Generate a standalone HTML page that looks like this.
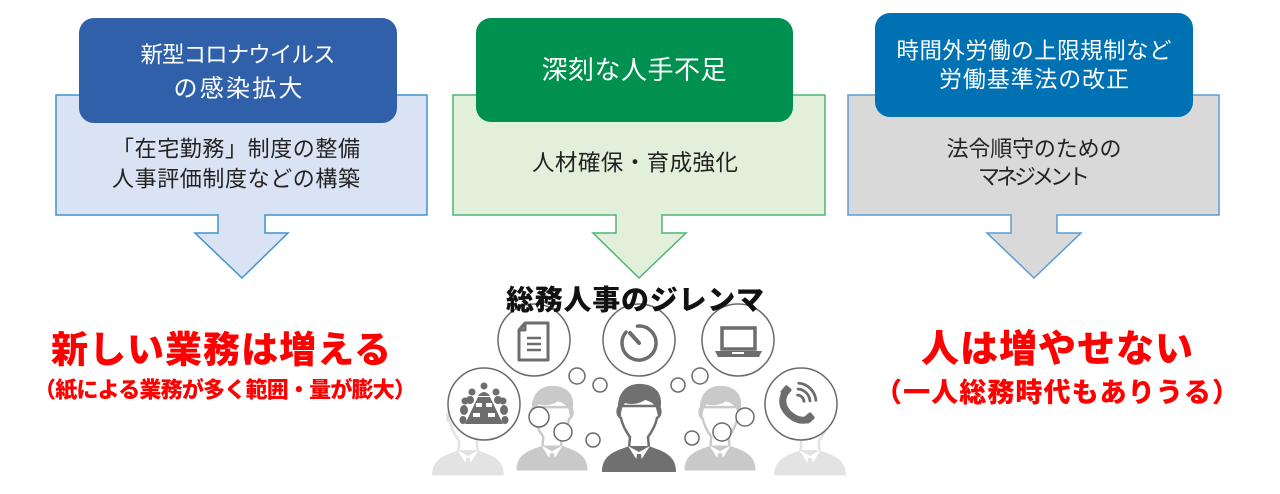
<!DOCTYPE html>
<html><head><meta charset="utf-8">
<style>
html,body{margin:0;padding:0;background:#fff;}
svg{display:block;}
text{font-family:"Liberation Sans","Noto Sans CJK JP",sans-serif;}
</style></head>
<body>
<svg width="1280" height="494" viewBox="0 0 1280 494" xmlns="http://www.w3.org/2000/svg">
<!-- Left box -->
<polygon points="56,95 427,95 427,215 265,215 265,233 288,233 242,278 195,233 218,233 218,215 56,215" fill="#dae3f3" stroke="#3f93cf" stroke-width="1.5"/>
<rect x="79" y="18" width="318" height="105" rx="15" fill="#3060aa"/>
<text x="238" y="55" font-size="22.5" fill="#fff" text-anchor="middle" dominant-baseline="central" textLength="195">新型コロナウイルス</text>
<text x="238" y="89" font-size="24" fill="#fff" text-anchor="middle" dominant-baseline="central" textLength="129">の感染拡大</text>
<text x="236" y="149" font-size="22" fill="#222" text-anchor="middle" dominant-baseline="central" textLength="248">「在宅勤務」制度の整備</text>
<text x="236" y="179" font-size="22" fill="#222" text-anchor="middle" dominant-baseline="central" textLength="248">人事評価制度などの構築</text>

<!-- Middle box -->
<polygon points="453,95 825,95 825,215 662,215 662,233 686,233 639,278 593,233 616,233 616,215 453,215" fill="#e2efda" stroke="#4db575" stroke-width="1.5"/>
<rect x="476" y="18" width="317" height="104" rx="15" fill="#00904f"/>
<text x="634" y="70" font-size="26" fill="#fff" text-anchor="middle" dominant-baseline="central" textLength="185">深刻な人手不足</text>
<text x="635" y="163" font-size="22.5" fill="#222" text-anchor="middle" dominant-baseline="central" textLength="206">人材確保・育成強化</text>

<!-- Right box -->
<polygon points="848,95 1219,95 1219,215 1057,215 1057,233 1081,233 1034,278 987,233 1011,233 1011,215 848,215" fill="#d9d9d9" stroke="#5b9bd5" stroke-width="1.5"/>
<rect x="875" y="13" width="318" height="104" rx="15" fill="#0071b3"/>
<text x="1034" y="51" font-size="22.5" fill="#fff" text-anchor="middle" dominant-baseline="central" textLength="275">時間外労働の上限規制など</text>
<text x="1034" y="79" font-size="23" fill="#fff" text-anchor="middle" dominant-baseline="central" textLength="190">労働基準法の改正</text>
<text x="1034" y="149" font-size="22" fill="#222" text-anchor="middle" dominant-baseline="central" textLength="175">法令順守のための</text>
<text x="1034" y="177" font-size="22" fill="#222" text-anchor="middle" dominant-baseline="central" textLength="112">マネジメント</text>

<!-- Red texts -->
<text x="221" y="350" font-size="37" font-weight="900" fill="#ff0000" text-anchor="middle" dominant-baseline="central" textLength="340">新しい業務は増える</text>
<text x="225" y="390" font-size="22" font-weight="900" fill="#ff0000" text-anchor="middle" dominant-baseline="central" textLength="382">（紙による業務が多く範囲・量が膨大）</text>
<text x="1057" y="350" font-size="38" font-weight="900" fill="#ff0000" text-anchor="middle" dominant-baseline="central" textLength="272">人は増やせない</text>
<text x="1057" y="393" font-size="27" font-weight="900" fill="#ff0000" text-anchor="middle" dominant-baseline="central" textLength="364">（一人総務時代もありうる）</text>

<!-- Persons -->
<g transform="translate(468,390) scale(0.97)" style="color:#e3e3e3">
  <path d="M -18 22 C -22 22 -23 31 -18 34 C -16 44 -11 50 -9 53 L -10 64 L 10 64 L 9 53 C 11 50 16 44 18 34 C 23 31 22 22 18 22 Z" fill="#fff" stroke="currentColor" stroke-width="2.5"/>
  <path d="M -20 32 C -24 14 -16 1 -2 0 C 12 -1 22 6 22 18 C 22 24 21 28 19 32 L 17 24 C 15 19 10 17 6 16 C 0 20 -8 21 -14 19 C -17 23 -18 27 -18 32 Z" fill="currentColor"/>
  <path d="M -37 88 C -37 75 -30 69 -15 64 L -10 62 L 10 62 L 15 64 C 30 69 37 75 37 88 Z" fill="currentColor"/>
  <polygon points="-11,62 -2,76 0,70 2,76 11,62 0,68" fill="#fff"/>
  <polygon points="-2,70 2,70 3.5,82 0,88 -3.5,82" fill="currentColor"/>
</g>
<g transform="translate(810,390) scale(0.97)" style="color:#e3e3e3">
  <path d="M -18 22 C -22 22 -23 31 -18 34 C -16 44 -11 50 -9 53 L -10 64 L 10 64 L 9 53 C 11 50 16 44 18 34 C 23 31 22 22 18 22 Z" fill="#fff" stroke="currentColor" stroke-width="2.5"/>
  <path d="M -20 32 C -24 14 -16 1 -2 0 C 12 -1 22 6 22 18 C 22 24 21 28 19 32 L 17 24 C 15 19 10 17 6 16 C 0 20 -8 21 -14 19 C -17 23 -18 27 -18 32 Z" fill="currentColor"/>
  <path d="M -37 88 C -37 75 -30 69 -15 64 L -10 62 L 10 62 L 15 64 C 30 69 37 75 37 88 Z" fill="currentColor"/>
  <polygon points="-11,62 -2,76 0,70 2,76 11,62 0,68" fill="#fff"/>
  <polygon points="-2,70 2,70 3.5,82 0,88 -3.5,82" fill="currentColor"/>
</g>
<g transform="translate(552,386) scale(0.96)" style="color:#c9c9c9">
  <path d="M -18 22 C -22 22 -23 31 -18 34 C -16 44 -11 50 -9 53 L -10 64 L 10 64 L 9 53 C 11 50 16 44 18 34 C 23 31 22 22 18 22 Z" fill="#fff" stroke="currentColor" stroke-width="2.5"/>
  <path d="M -20 32 C -24 14 -16 1 -2 0 C 12 -1 22 6 22 18 C 22 24 21 28 19 32 L 17 24 C 15 19 10 17 6 16 C 0 20 -8 21 -14 19 C -17 23 -18 27 -18 32 Z" fill="currentColor"/>
  <path d="M -37 88 C -37 75 -30 69 -15 64 L -10 62 L 10 62 L 15 64 C 30 69 37 75 37 88 Z" fill="currentColor"/>
  <polygon points="-11,62 -2,76 0,70 2,76 11,62 0,68" fill="#fff"/>
  <polygon points="-2,70 2,70 3.5,82 0,88 -3.5,82" fill="currentColor"/>
</g>
<g transform="translate(720,386) scale(0.96)" style="color:#c9c9c9">
  <path d="M -18 22 C -22 22 -23 31 -18 34 C -16 44 -11 50 -9 53 L -10 64 L 10 64 L 9 53 C 11 50 16 44 18 34 C 23 31 22 22 18 22 Z" fill="#fff" stroke="currentColor" stroke-width="2.5"/>
  <path d="M -20 32 C -24 14 -16 1 -2 0 C 12 -1 22 6 22 18 C 22 24 21 28 19 32 L 17 24 C 15 19 10 17 6 16 C 0 20 -8 21 -14 19 C -17 23 -18 27 -18 32 Z" fill="currentColor"/>
  <path d="M -37 88 C -37 75 -30 69 -15 64 L -10 62 L 10 62 L 15 64 C 30 69 37 75 37 88 Z" fill="currentColor"/>
  <polygon points="-11,62 -2,76 0,70 2,76 11,62 0,68" fill="#fff"/>
  <polygon points="-2,70 2,70 3.5,82 0,88 -3.5,82" fill="currentColor"/>
</g>
<g transform="translate(639,384)" style="color:#707070">
  <path d="M -18 22 C -22 22 -23 31 -18 34 C -16 44 -11 50 -9 53 L -10 64 L 10 64 L 9 53 C 11 50 16 44 18 34 C 23 31 22 22 18 22 Z" fill="#fff" stroke="currentColor" stroke-width="2.5"/>
  <path d="M -20 32 C -24 14 -16 1 -2 0 C 12 -1 22 6 22 18 C 22 24 21 28 19 32 L 17 24 C 15 19 10 17 6 16 C 0 20 -8 21 -14 19 C -17 23 -18 27 -18 32 Z" fill="currentColor"/>
  <path d="M -37 88 C -37 75 -30 69 -15 64 L -10 62 L 10 62 L 15 64 C 30 69 37 75 37 88 Z" fill="currentColor"/>
  <polygon points="-11,62 -2,76 0,70 2,76 11,62 0,68" fill="#fff"/>
  <polygon points="-2,70 2,70 3.5,82 0,88 -3.5,82" fill="currentColor"/>
</g>

<!-- Big circles -->
<g fill="#fff" stroke="#6a6a6a" stroke-width="1.5">
  <circle cx="534" cy="340" r="36"/>
  <circle cx="639" cy="340" r="36"/>
  <circle cx="738" cy="340" r="36"/>
  <circle cx="484" cy="404" r="36"/>
  <circle cx="801" cy="404" r="36"/>
</g>
<!-- Small bubbles -->
<g fill="#fff" stroke="#6a6a6a" stroke-width="1.5">
  <circle cx="577" cy="376" r="8"/>
  <circle cx="600" cy="385" r="7"/>
  <circle cx="539" cy="417" r="10"/>
  <circle cx="563" cy="432" r="9"/>
  <circle cx="593" cy="440" r="7"/>
  <circle cx="678" cy="385" r="7"/>
  <circle cx="700" cy="376" r="8"/>
  <circle cx="692" cy="438" r="7"/>
  <circle cx="722" cy="432" r="9"/>
  <circle cx="745" cy="417" r="9"/>
</g>

<!-- Document icon -->
<g stroke="#6d6d6d" fill="none" stroke-width="3" stroke-linejoin="round">
  <path d="M 525 323 L 548 323 L 548 360 L 519 360 L 519 330 Z"/>
  <path d="M 525 323 L 525 330 L 519 330"/>
  <line x1="527" y1="338" x2="541" y2="338" stroke-width="2.5"/>
  <line x1="527" y1="344" x2="541" y2="344" stroke-width="2.5"/>
  <line x1="527" y1="350" x2="541" y2="350" stroke-width="2.5"/>
</g>
<!-- Timer icon -->
<g stroke="#6d6d6d" fill="none" stroke-width="3.5" stroke-linecap="round">
  <path d="M 637.5 326.1 A 17 17 0 1 1 626 332.1"/>
  <line x1="639" y1="343" x2="630" y2="333" stroke-width="4"/>
</g>
<!-- Laptop icon -->
<g>
  <rect x="722" y="328" width="33" height="21" fill="none" stroke="#6d6d6d" stroke-width="3.5"/>
  <polygon points="715,351 762,351 759,357 718,357" fill="#6d6d6d"/>
  <rect x="732" y="352" width="12" height="2" fill="#fff"/>
</g>
<!-- Meeting icon -->
<g fill="#6d6d6d">
  <circle cx="484" cy="386" r="3.5"/>
  <path d="M 478 396 Q 484 388 490 396 Z"/>
  <circle cx="472" cy="392" r="3.5"/>
  <circle cx="496" cy="392" r="3.5"/>
  <circle cx="465" cy="401" r="3.5"/>
  <circle cx="503" cy="401" r="3.5"/>
  <ellipse cx="470" cy="400" rx="4" ry="4"/>
  <ellipse cx="498" cy="400" rx="4" ry="4"/>
  <ellipse cx="464" cy="410" rx="4" ry="5"/>
  <ellipse cx="504" cy="410" rx="4" ry="5"/>
  <ellipse cx="463" cy="420" rx="3.5" ry="4"/>
  <ellipse cx="505" cy="420" rx="3.5" ry="4"/>
  <polygon points="478,397 490,397 503,424 465,424"/>
  <rect x="476" y="403" width="6" height="4" fill="#fff"/>
  <rect x="486" y="403" width="6" height="4" fill="#fff"/>
  <rect x="473" y="413" width="7" height="4" fill="#fff"/>
  <rect x="488" y="413" width="7" height="4" fill="#fff"/>
</g>
<!-- Phone icon -->
<g stroke="#6d6d6d" fill="none" stroke-linecap="round">
  <path d="M 785 393 Q 779 404 789 414 Q 799 423 809 419" stroke-width="7"/>
  <path d="M 797.6 395 A 7 7 0 0 1 804 401.4" stroke-width="2.8"/>
  <path d="M 798.1 389 A 13 13 0 0 1 810 400.9" stroke-width="2.8"/>
  <path d="M 798.7 383.1 A 19 19 0 0 1 815.9 400.3" stroke-width="2.8"/>
</g>
<g fill="#6d6d6d">
  <rect x="781" y="387" width="10" height="8" rx="2" transform="rotate(-50 786 391)"/>
  <rect x="804" y="414" width="10" height="8" rx="2" transform="rotate(-40 809 418)"/>
</g>

<!-- Title -->
<text x="635" y="300" font-size="28" font-weight="900" fill="#111" text-anchor="middle" dominant-baseline="central" textLength="258">総務人事のジレンマ</text>
</svg>
</body></html>
